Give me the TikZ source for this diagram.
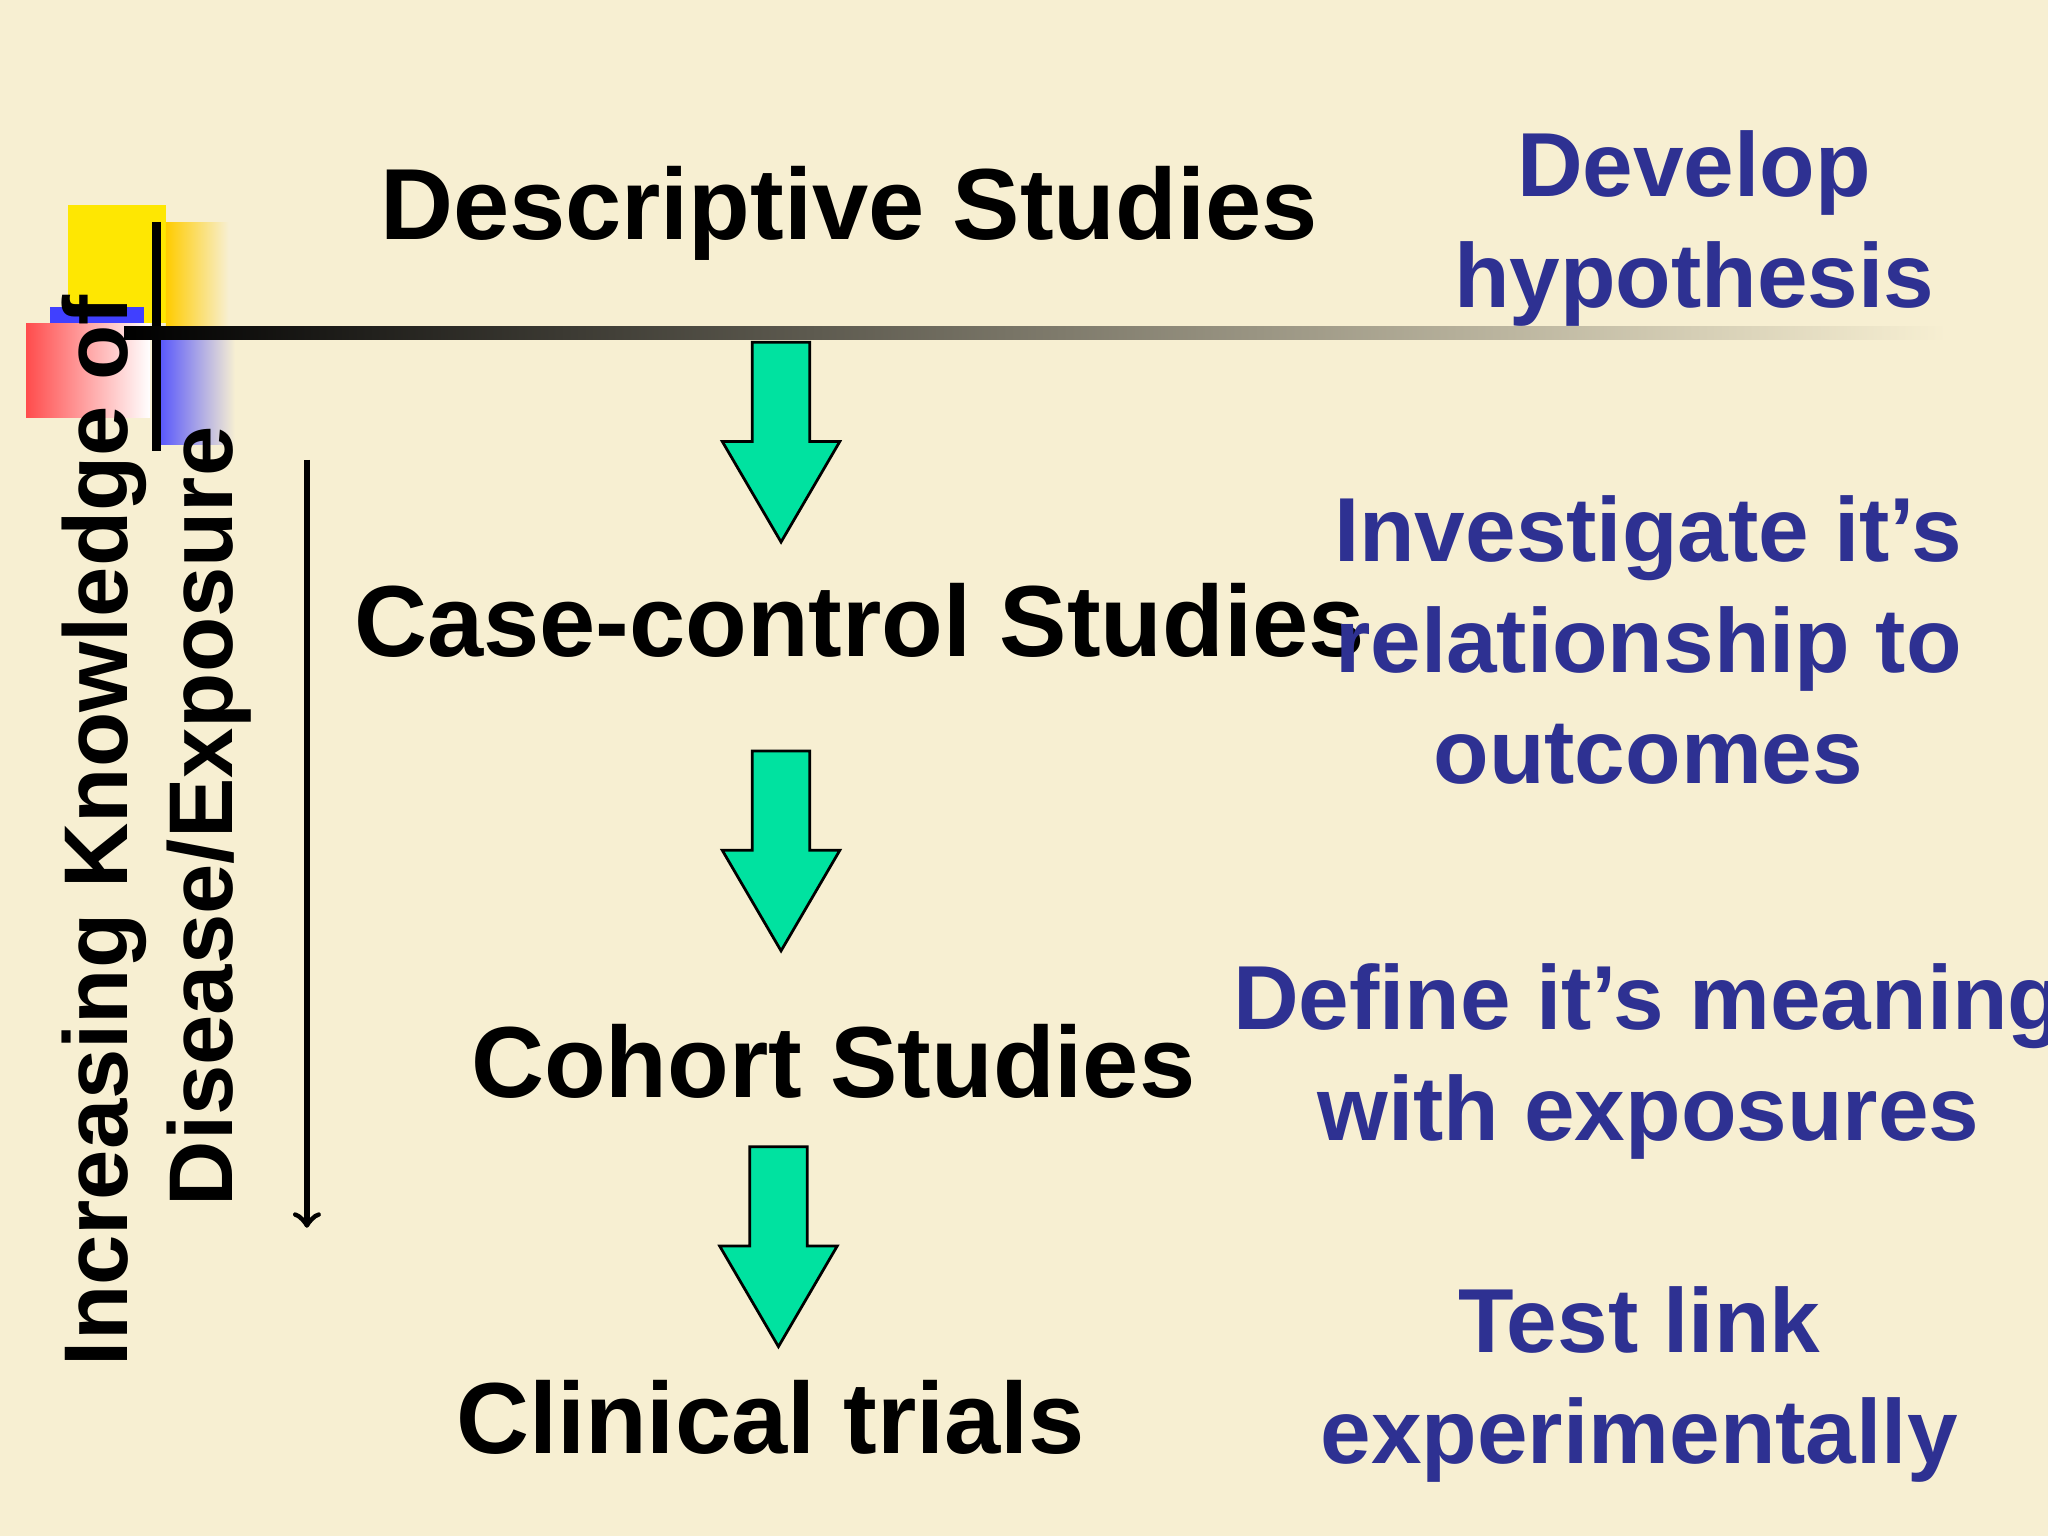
\documentclass[tikz,border=0pt]{standalone}
\usepackage{fontspec}
\setmainfont{Liberation Sans}
\usetikzlibrary{positioning}
\definecolor{paper}{RGB}{247,239,210}
\definecolor{ink}{RGB}{46,49,146}
\definecolor{mint}{RGB}{0,226,160}
\begin{document}
\begin{tikzpicture}[x=0.01cm,y=-0.01cm]
        \tikzset{study/.style={font=\bfseries\fontsize{22}{26}\selectfont, text=black},
                 side/.style={font=\bfseries\fontsize{19.7}{24}\selectfont, text=black},
                 aim/.style={font=\bfseries\fontsize{19.8}{24.2}\selectfont, text=ink, align=center},
                 downarrow/.style={fill=mint, draw=black, line width=0.6pt}}
        \useasboundingbox (0,0) rectangle (1568,1176);
        \clip (0,0) rectangle (1568,1176);
        \fill[paper] (0,0) rectangle (1568,1176);
        
        % corner decoration
        \fill[yellow!90!orange] (52,157) rectangle (127,247);
        \shade[left color=yellow!60!orange, right color=paper] (127,170) rectangle (175,250);
        \fill[blue!75] (38,235) rectangle (110,250);
        \shade[left color=red!70, right color=white] (20,248) rectangle (115,320);
        \shade[left color=blue!70, right color=paper] (118,250) rectangle (180,340);
        \draw[line width=2pt] (120,170) -- (120,345);
        \shade[left color=black, right color=paper] (95,250) rectangle (1490,260);
        
        % arrows
        \foreach \ax/\ay in {598/262, 598/575, 596/878}
          \draw[downarrow] (\ax-22,\ay) -- (\ax+22,\ay) -- (\ax+22,\ay+76) -- (\ax+45,\ay+76)
            -- (\ax,\ay+153) -- (\ax-45,\ay+76) -- (\ax-22,\ay+76) -- cycle;
        
        % studies
        \node[study] (desc) at (650,163) {Descriptive Studies};
        \node[study] (case) at (658,475) {Case-control Studies};
        \node[study] (coh) at (638,813) {Cohort Studies};
        \node[study] (clin) at (590,1085) {Clinical trials};
        
        % aims
        \node[aim] (dev) at (1297,175) {Develop\\hypothesis};
        \node[aim] (inv) at (1262,490) {Investigate it’s\\relationship to\\outcomes};
        \node[aim] (def) at (1262,813) {Define it’s meaning\\with exposures};
        \node[aim] (test) at (1255,1060) {Test link\\experimentally};
        
        % side label
        \node[side, rotate=90] (know) at (80,636) {Increasing Knowledge of};
        \node[side, rotate=90] (dis) at (160,625) {Disease/Exposure};
        \coordinate (top) at (235,352);
        \coordinate (bot) at (235,940);
        \draw[->, line width=1.2pt] (top) -- (bot);
\end{tikzpicture}
\end{document}
